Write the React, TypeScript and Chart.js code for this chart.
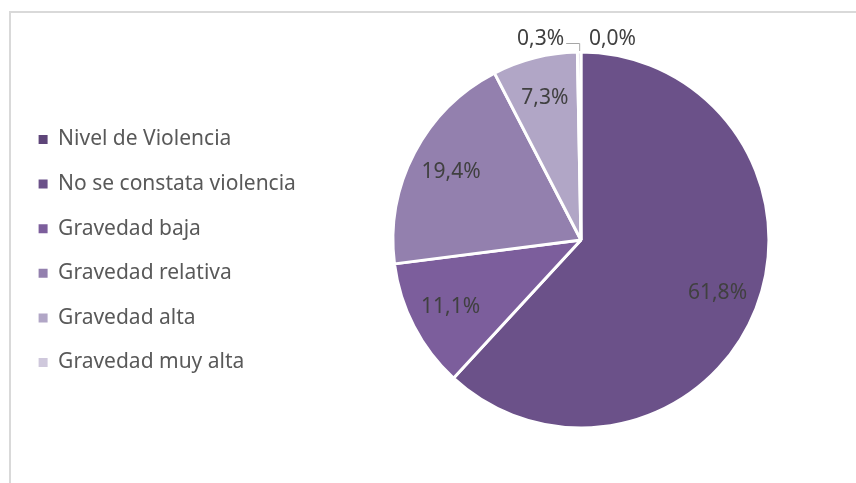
import React, { useEffect, useRef } from 'react';
import { Chart, registerables } from 'chart.js';

Chart.register(...registerables);

const categories = [
  'Nivel de Violencia',
  'No se constata violencia',
  'Gravedad baja',
  'Gravedad relativa',
  'Gravedad alta',
  'Gravedad muy alta',
];
const values = [0.0, 61.8, 11.1, 19.4, 7.3, 0.3];
const colors = ['#5E4579', '#6B5189', '#7C5E9C', '#9380AE', '#B1A6C6', '#CFC8DC'];

const FONT = '"Noto Sans", "Open Sans", sans-serif';

const fmt = (v: number) => v.toFixed(1).replace('.', ',') + '%';

const sliceLabels = {
  id: 'sliceLabels',
  afterDatasetsDraw(chart: any) {
    const ctx = chart.ctx;
    const meta = chart.getDatasetMeta(0);
    ctx.save();
    ctx.font = `21px ${FONT}`;
    ctx.fillStyle = '#404040';
    ctx.textBaseline = 'middle';
    meta.data.forEach((arc: any, i: number) => {
      const v = values[i];
      const { x, y, startAngle, endAngle, outerRadius } = arc.getProps(
        ['x', 'y', 'startAngle', 'endAngle', 'outerRadius'],
        true
      );
      const mid = (startAngle + endAngle) / 2;
      if (v >= 1) {
        const rr = outerRadius * 0.78;
        ctx.textAlign = 'center';
        ctx.fillText(fmt(v), x + Math.cos(mid) * rr, y + Math.sin(mid) * rr);
      } else {
        const ax = x + Math.cos(mid) * outerRadius;
        const ay = y + Math.sin(mid) * outerRadius;
        const ly = ay - 13;
        if (ax < x - 0.5) {
          ctx.textAlign = 'right';
          ctx.fillText(fmt(v), ax - 15, ly);
          ctx.beginPath();
          ctx.strokeStyle = '#A6A6A6';
          ctx.lineWidth = 1;
          ctx.moveTo(ax - 13, ay - 8.5);
          ctx.lineTo(ax + 0.5, ay - 8.5);
          ctx.lineTo(ax + 0.5, ay - 1);
          ctx.stroke();
        } else {
          ctx.textAlign = 'left';
          ctx.fillText(fmt(v), ax + 8, ly);
        }
      }
    });
    ctx.restore();
  },
};

export default function App() {
  const ref = useRef<HTMLCanvasElement | null>(null);

  useEffect(() => {
    if (!ref.current) return;
    const chart = new Chart(ref.current, {
      type: 'pie',
      data: {
        labels: categories,
        datasets: [
          {
            data: values,
            backgroundColor: colors,
            borderColor: '#ffffff',
            borderWidth: 3,
            hoverOffset: 0,
          },
        ],
      },
      options: {
        animation: false,
        responsive: true,
        maintainAspectRatio: false,
        layout: { padding: { left: 15, right: -12, top: 50.5, bottom: 53.5 } },
        plugins: {
          tooltip: { enabled: false },
          legend: {
            position: 'left',
            align: 'center',
            title: {
              display: true,
              text: '',
              font: { size: 1, lineHeight: 1 },
              padding: { top: 21, bottom: 0 },
            },
            labels: {
              boxWidth: 9,
              boxHeight: 9,
              padding: 23.6,
              color: '#595959',
              font: { family: FONT, size: 21 },
              generateLabels: () =>
                categories.map((label, i) => ({
                  text: label,
                  fillStyle: colors[i],
                  strokeStyle: colors[i],
                  lineWidth: 0,
                  hidden: false,
                  index: i,
                  fontColor: '#595959',
                })),
            },
          },
        },
      },
      plugins: [sliceLabels],
    });
    return () => chart.destroy();
  }, []);

  return (
    <div style={{ position: 'fixed', left: 0, top: 0, width: 856, height: 483, background: '#fff', overflow: 'hidden' }}>
      <div
        style={{
          position: 'absolute',
          left: 9,
          top: 11,
          width: 856,
          height: 483,
          borderLeft: '2px solid #D9D9D9',
          borderTop: '2px solid #D9D9D9',
        }}
      />
      <div style={{ position: 'absolute', left: 0, top: 0, width: 856, height: 483 }}>
        <canvas ref={ref} />
      </div>
    </div>
  );
}
